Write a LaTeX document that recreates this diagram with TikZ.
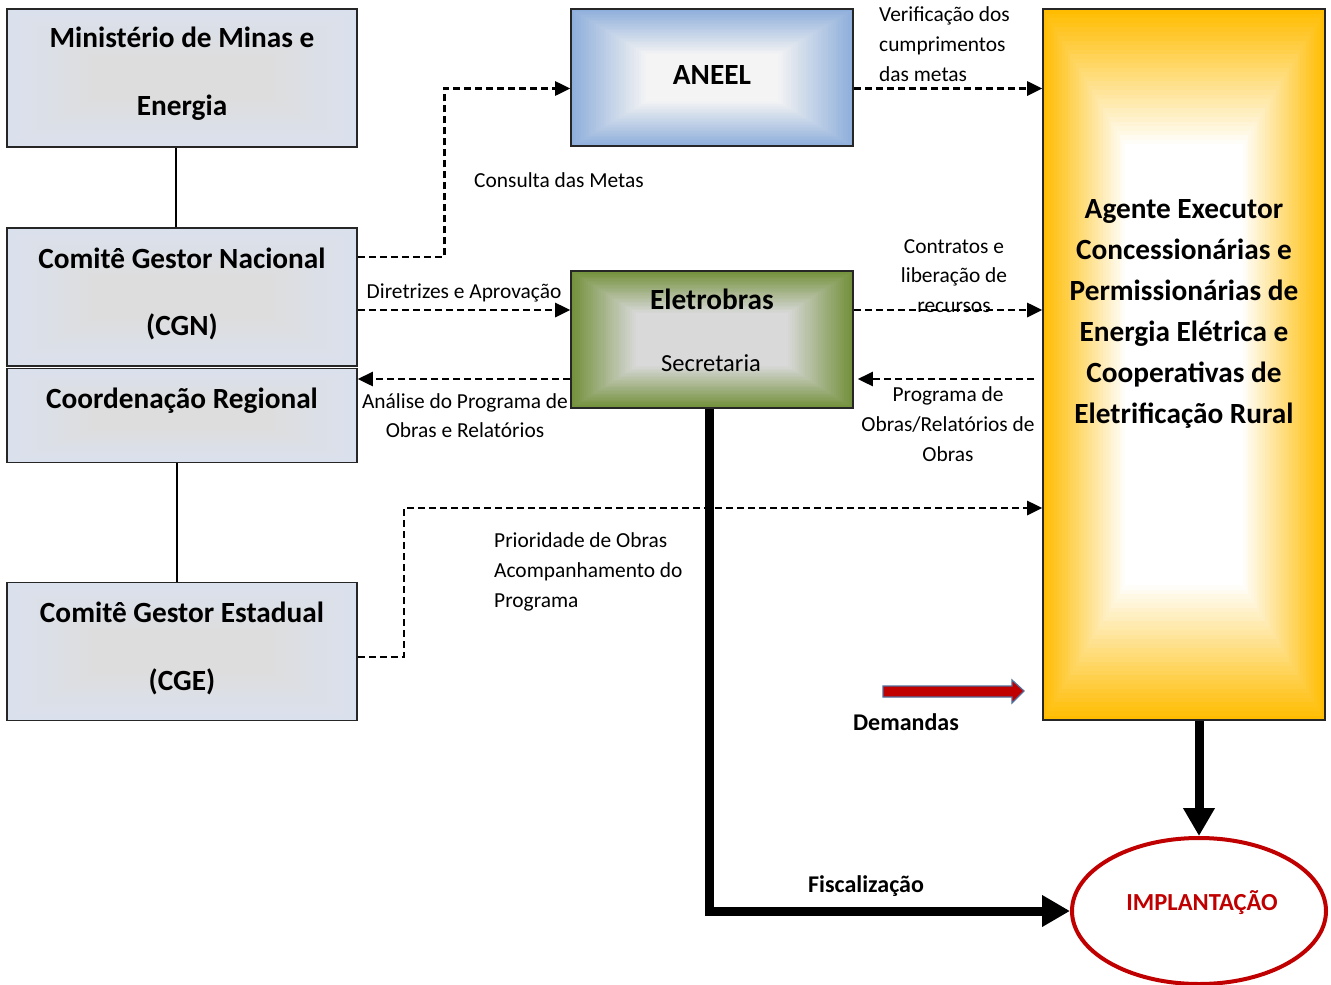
\documentclass[tikz,border=0pt]{standalone}
\usepackage{fontspec}
\setmainfont{Carlito}
\usetikzlibrary{arrows.meta,shapes.geometric,calc}
\definecolor{boxout}{HTML}{DAE1EE}
\definecolor{boxin}{HTML}{DDDDDD}
\definecolor{aneelout}{HTML}{8EAEDB}
\definecolor{aneelin}{HTML}{F4F4F4}
\definecolor{eletout}{HTML}{72903A}
\definecolor{eletin}{HTML}{D9D9D9}
\definecolor{agout}{HTML}{FFBC00}
\definecolor{agin}{HTML}{FFFFFF}
\definecolor{implred}{HTML}{C00000}
\definecolor{demblue}{HTML}{4F6E9C}
\definecolor{edge}{HTML}{262626}
\tikzset{
  grad/.style n args={4}{path picture={
    \foreach \i in {0,...,30}{
      \pgfmathtruncatemacro\pct{100-\i*100/30}
      \pgfmathsetmacro\dx{\i*#3/30}
      \pgfmathsetmacro\dy{\i*#4/30}
      \fill[#1!\pct!#2] ($(path picture bounding box.south west)+(\dx,-\dy)$) rectangle ($(path picture bounding box.north east)+(-\dx,\dy)$);
    }}},
  box/.style={draw=edge, line width=1.6pt, rectangle, inner sep=0pt},
  bigtxt/.style={font=\fontsize{29.3}{#1}\selectfont\bfseries, align=center, inner sep=0pt},
  smalltxt/.style={font=\fontsize{21.4}{#1}\selectfont, inner sep=0pt},
  dasharrow/.style={line width=2.7pt, dash pattern=on 7pt off 4pt, -{Triangle[length=15pt,width=14pt]}},
  thickarrow/.style={line width=9pt, -{Triangle[length=28pt,width=30pt]}},
  solidline/.style={line width=1.8pt}
}
\begin{document}
\begin{tikzpicture}[x=1pt,y=-1pt]
\useasboundingbox[fill=white] (0,0) rectangle (1331,985);

% boxes
\node[box, grad={boxout}{boxin}{90}{50}, minimum width=350pt, minimum height=138pt] (mme) at (182,78) {};
\node[box, grad={boxout}{boxin}{90}{50}, minimum width=350pt, minimum height=138pt] (cgn) at (182,297) {};
\node[box, grad={boxout}{boxin}{90}{35}, minimum width=350pt, minimum height=94pt] (cr) at (182,415.5) {};
\node[box, grad={boxout}{boxin}{90}{50}, minimum width=350pt, minimum height=138pt] (cge) at (182,651.5) {};
\node[box, grad={aneelout}{aneelin}{75}{45}, minimum width=282pt, minimum height=137pt] (aneel) at (712,77.5) {};
\node[box, grad={eletout}{eletin}{65}{42}, minimum width=282pt, minimum height=137pt] (elet) at (712,339.5) {};
\node[box, grad={agout}{agin}{82}{135}, minimum width=282pt, minimum height=711pt] (ag) at (1184,364.5) {};
\node[ellipse, draw=implred, line width=4pt, minimum width=254pt, minimum height=146pt, inner sep=0pt] (impl) at (1199,911) {};

% box texts
\node[bigtxt=68] (mmeT) at (182,74) {Ministério de Minas e\\Energia};
\node[bigtxt=67] (cgnT) at (182,293.5) {Comitê Gestor Nacional\\(CGN)};
\node[bigtxt=30] (crT) at (182,401) {Coordenação Regional};
\node[bigtxt=68] (cgeT) at (182,648) {Comitê Gestor Estadual\\(CGE)};
\node[bigtxt=30] (aneelT) at (712,75) {ANEEL};
\node[bigtxt=30] (eletT) at (712,299) {Eletrobras};
\node[font=\fontsize{24.5}{30}\selectfont, inner sep=0pt] (secT) at (711,363) {Secretaria};
\node[bigtxt=41] (agT) at (1184,314) {Agente Executor\\Concessionárias e\\Permissionárias de\\Energia Elétrica e\\Cooperativas de\\Eletrificação Rural};
\node[font=\fontsize{24.5}{30}\selectfont\bfseries, text=implred, inner sep=0pt] (implT) at (1202,903) {IMPLANTAÇÃO};

% solid links
\draw[solidline] ([xshift=-6pt]mme.south) -- ([xshift=-6pt]cgn.north);
\draw[solidline] ([xshift=-5pt]cr.south) -- ([xshift=-5pt]cge.north);

% dashed connectors
\coordinate (p1) at ($(cgn.east)+(0,-40)$);
\coordinate (p1b) at ($(aneel.west)+(0,11)$);
\coordinate (p1k) at ($(aneel.west)+(-126,11)$);
\draw[dasharrow] (p1) -| (p1k) -- (p1b);

\coordinate (p2) at ($(cgn.east)+(0,13)$);
\draw[dasharrow] (p2) -- (p2 -| elet.west);

\coordinate (p3) at ($(elet.west)+(0,39.5)$);
\draw[dasharrow] (p3) -- (p3 -| cr.east);

\coordinate (p4) at ($(aneel.east)+(0,11)$);
\draw[dasharrow] (p4) -- (p4 -| ag.west);

\coordinate (p5) at ($(elet.east)+(0,-29.5)$);
\draw[dasharrow] (p5) -- (p5 -| ag.west);

\coordinate (p6) at ($(elet.east)+(0,39.5)$);
\draw[dasharrow, shorten <=8pt, shorten >=4pt] (p6 -| ag.west) -- (p6);

\coordinate (p7) at ($(cge.east)+(0,5.5)$);
\coordinate (p7k) at (404,508);
\draw[dasharrow] (p7) -| (p7k) -- (p7k -| ag.west);

% thick connectors
\draw[thickarrow] ([xshift=-3pt]elet.south) |- (impl.west);
\draw[thickarrow] (ag.south -| impl.north) -- (impl.north);

% Demandas arrow
\filldraw[fill=implred, draw=demblue, line width=1.2pt] (883,686) -- (1012,686) -- (1012,680) -- (1024,691) -- (1012,703) -- (1012,697) -- (883,697) -- cycle;

% labels
\node[smalltxt=30] (lConsulta) at (559,180) {Consulta das Metas};
\node[smalltxt=30] (lDiretrizes) at (464,293) {Diretrizes e Aprovação};
\node[smalltxt=29, align=center] (lAnalise) at (465,416) {Análise do Programa de\\Obras e Relatórios};
\node[smalltxt=30, align=left, anchor=west] (lVerif) at (879,44) {Verificação dos\\cumprimentos\\das metas};
\node[smalltxt=29.5, align=center] (lContratos) at (954,276) {Contratos e\\liberação de\\recursos};
\node[smalltxt=30, align=center] (lPrograma) at (948,424) {Programa de\\Obras/Relatórios de\\Obras};
\node[smalltxt=30, align=left, anchor=west] (lPrioridade) at (494,572) {Prioridade de Obras\\Acompanhamento do\\Programa};
\node[font=\fontsize{24}{30}\selectfont\bfseries, inner sep=0pt] (lDemandas) at (906,722) {Demandas};
\node[font=\fontsize{24}{30}\selectfont\bfseries, inner sep=0pt] (lFiscal) at (866,886) {Fiscalização};
\end{tikzpicture}
\end{document}
